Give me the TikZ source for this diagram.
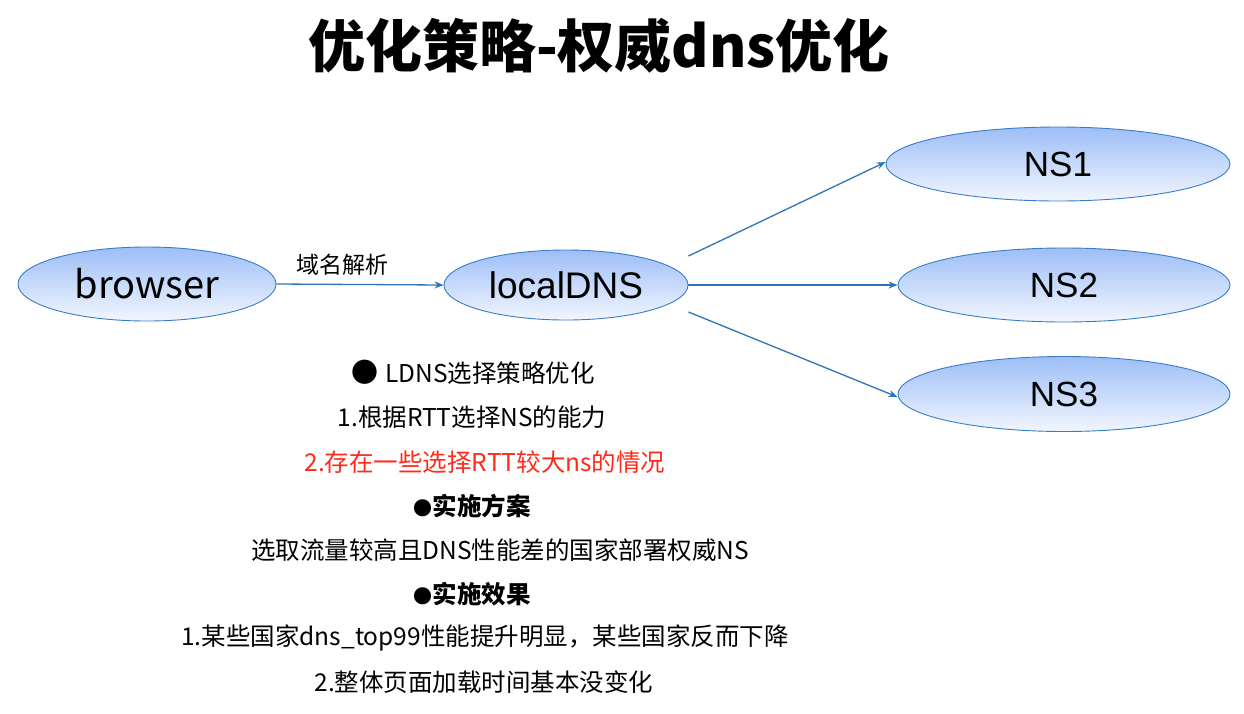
\documentclass[tikz,border=0pt]{standalone}
\usepackage{fontspec}
\setmainfont{Noto Sans CJK SC}
\newfontfamily\lsans{Liberation Sans}
\usetikzlibrary{shapes.geometric,arrows.meta}
\definecolor{edgeblue}{HTML}{3A7CC8}
\definecolor{arrblue}{HTML}{2E75B6}
\definecolor{topfill}{HTML}{9DBEF7}
\definecolor{botfill}{HTML}{F2F6FE}
\definecolor{redtxt}{HTML}{FF2A1A}
\newcommand{\smbullet}{{\fontsize{19}{19}\selectfont ●}}
\tikzset{
  oval/.style={ellipse, draw=edgeblue, line width=0.9pt, top color=topfill, bottom color=botfill, inner sep=0pt},
  conn/.style={draw=arrblue, line width=1.3pt, -{Stealth[length=9pt,width=7pt]}},
  body/.style={inner sep=0pt, font=\fontsize{24.5}{28}\selectfont},
  head/.style={inner sep=0pt, font=\fontsize{24.5}{28}\selectfont\bfseries},
}
\begin{document}
\begin{tikzpicture}[x=1pt,y=-1pt]
\useasboundingbox[fill=white] (0,0) rectangle (1244,713);
\node[inner sep=0pt, font=\fontsize{57}{60}\selectfont\bfseries] (title) at (599,46) {优化策略-权威dns优化};
\node[oval, minimum width=258pt, minimum height=74pt, font=\fontsize{38}{40}\selectfont] (browser) at (147,284) {browser};
\node[oval, minimum width=244pt, minimum height=70pt, font=\lsans\fontsize{37}{40}\selectfont] (ldns) at (566,285) {localDNS};
\node[oval, minimum width=344pt, minimum height=74pt, font=\lsans\fontsize{35}{38}\selectfont] (ns1) at (1058,164) {NS1};
\node[oval, minimum width=332pt, minimum height=74pt, font=\lsans\fontsize{35}{38}\selectfont] (ns2) at (1064,285) {NS2};
\node[oval, minimum width=332pt, minimum height=75pt, font=\lsans\fontsize{35}{38}\selectfont] (ns3) at (1064,394) {NS3};
\draw[conn] (browser.east) -- (ldns.west);
\node[inner sep=0pt, font=\fontsize{23}{26}\selectfont] (lbl) at (342,265) {域名解析};
\draw[conn] ([yshift=29pt]ldns.east) -- ([yshift=2pt]ns1.west);
\draw[conn] (ldns.east) -- (ns2.west);
\draw[conn] ([yshift=-27pt]ldns.east) -- ([yshift=-3pt]ns3.west);
\node[body] (t1) at (473,372) {{\fontsize{27}{27}\selectfont ●}\hspace{0.3em}LDNS选择策略优化};
\node[body] (t2) at (472,417) {1.根据RTT选择NS的能力};
\node[body, text=redtxt] (t3) at (485,462) {2.存在一些选择RTT较大ns的情况};
\node[head] (t4) at (472,506) {\smbullet 实施方案};
\node[body] (t5) at (500,550) {选取流量较高且DNS性能差的国家部署权威NS};
\node[head] (t6) at (472,594) {\smbullet 实施效果};
\node[body] (t7) at (485,638) {1.某些国家dns\_top99性能提升明显，某些国家反而下降};
\node[body] (t8) at (484,682) {2.整体页面加载时间基本没变化};
\end{tikzpicture}
\end{document}
